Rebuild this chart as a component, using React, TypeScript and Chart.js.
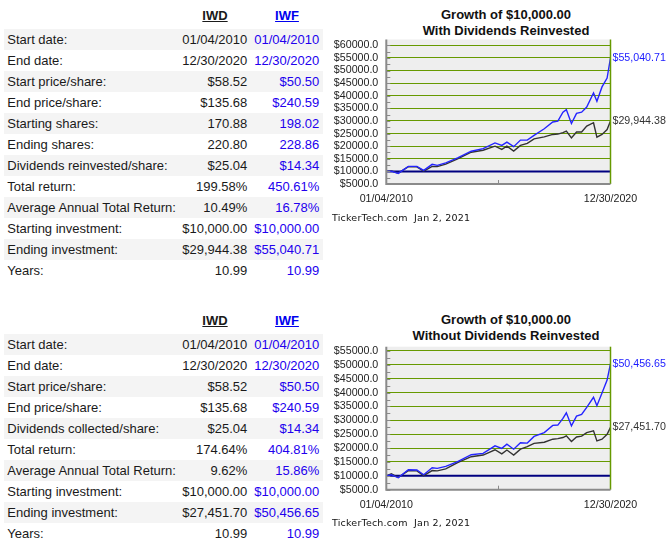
import React, { useEffect, useRef } from "react";
import { Chart, registerables } from "chart.js";

Chart.register(...registerables);

// ---------- DATA ----------
const tickers = ["IWD", "IWF"];

const rowLabelsWith = [
  "Start date:",
  "End date:",
  "Start price/share:",
  "End price/share:",
  "Starting shares:",
  "Ending shares:",
  "Dividends reinvested/share:",
  "Total return:",
  "Average Annual Total Return:",
  "Starting investment:",
  "Ending investment:",
  "Years:",
];
const iwdWithValues = ["01/04/2010", "12/30/2020", "$58.52", "$135.68", "170.88", "220.80", "$25.04", "199.58%", "10.49%", "$10,000.00", "$29,944.38", "10.99"];
const iwfWithValues = ["01/04/2010", "12/30/2020", "$50.50", "$240.59", "198.02", "228.86", "$14.34", "450.61%", "16.78%", "$10,000.00", "$55,040.71", "10.99"];

const rowLabelsWithout = [
  "Start date:",
  "End date:",
  "Start price/share:",
  "End price/share:",
  "Dividends collected/share:",
  "Total return:",
  "Average Annual Total Return:",
  "Starting investment:",
  "Ending investment:",
  "Years:",
];
const iwdWithoutValues = ["01/04/2010", "12/30/2020", "$58.52", "$135.68", "$25.04", "174.64%", "9.62%", "$10,000.00", "$27,451.70", "10.99"];
const iwfWithoutValues = ["01/04/2010", "12/30/2020", "$50.50", "$240.59", "$14.34", "404.81%", "15.86%", "$10,000.00", "$50,456.65", "10.99"];

// months elapsed since 01/04/2010 for each sampled point
const sampleMonths = [0, 3, 7, 13, 18, 22, 27, 30, 35, 42, 50, 57, 64, 68, 71, 75, 79, 83, 87, 93, 98, 101, 104, 106, 109, 112, 115, 118, 122, 124, 127, 130, 132];

const iwfWithDiv = [10000, 10100, 9200, 12000, 12000, 10400, 12800, 12400, 13400, 15400, 18000, 19000, 21300, 20300, 21600, 19800, 22400, 22400, 24300, 26900, 29600, 29900, 33500, 34500, 29000, 33000, 33500, 35500, 41100, 37800, 43500, 47000, 55040.71];
const iwdWithDiv = [10000, 10200, 9300, 11900, 11800, 10100, 12000, 11900, 12900, 15000, 17600, 18400, 20000, 18700, 20000, 18050, 20300, 21100, 22900, 23700, 24650, 24800, 25400, 26000, 23300, 25600, 25600, 27950, 29300, 23600, 24650, 26600, 29944.38];

const iwfNoDiv = [10000, 10400, 9300, 12200, 12100, 10400, 12900, 12700, 13400, 15100, 17600, 18100, 20800, 19900, 21400, 19600, 21900, 21800, 24200, 25600, 28200, 28300, 30700, 32700, 28000, 31500, 32100, 34700, 38300, 35300, 39900, 44500, 50456.65];
const iwdNoDiv = [10000, 10700, 9400, 11900, 11800, 10100, 11900, 11800, 12500, 14800, 16900, 17500, 19400, 17900, 19300, 17500, 19600, 20500, 21700, 22100, 23200, 23400, 23800, 24400, 22400, 24000, 24300, 25600, 26200, 22600, 23200, 25000, 27451.7];

const baselineValue = 10000;
const xTickLabels = ["01/04/2010", "12/30/2020"];
const yMinValue = 5000;
const yStep = 5000;
const yMinorStep = 2500;
const yTopTickWith = 60000;
const yTopTickWithout = 55000;
const creditText = "TickerTech.com  Jan 2, 2021";
const titleLine1 = "Growth of $10,000.00";

// ---------- STYLE ----------
const SANS = '"Liberation Sans", Arial, Helvetica, sans-serif';
const BLUE_LINE = "#2424ff";
const DARK_LINE = "#333333";
const GRID_GREEN = "#669900";
const AXIS_GRAY = "#8a8a8a";
const NAVY = "#000080";

type ChartProps = {
  top: number;
  height: number;
  subtitle: string;
  iwf: number[];
  iwd: number[];
  iwfEnd: string;
  iwdEnd: string;
  yMax: number;
  yTopTick: number;
  padTop: number;
  padBottom: number;
};

function GrowthChart(props: ChartProps) {
  const ref = useRef<HTMLCanvasElement>(null);
  useEffect(() => {
    const canvas = ref.current;
    if (!canvas) return;
    const first = sampleMonths[0];
    const last = sampleMonths[sampleMonths.length - 1];

    const bgPlugin = {
      id: "plotBg",
      beforeDraw(chart: any) {
        const { ctx, chartArea } = chart;
        ctx.save();
        ctx.fillStyle = "#eeeeee";
        ctx.fillRect(chartArea.left, chartArea.top, chartArea.right - chartArea.left, chartArea.bottom - chartArea.top);
        ctx.restore();
      },
    };

    const framePlugin = {
      id: "frame",
      afterDatasetsDraw(chart: any) {
        const { ctx, chartArea, scales } = chart;
        const { left, right, top, bottom } = chartArea;
        ctx.save();
        // right axis (green)
        ctx.strokeStyle = GRID_GREEN;
        ctx.lineWidth = 1.5;
        ctx.beginPath();
        ctx.moveTo(right, top);
        ctx.lineTo(right, bottom);
        ctx.stroke();
        // left & bottom axes (gray)
        ctx.strokeStyle = AXIS_GRAY;
        ctx.lineWidth = 2;
        ctx.beginPath();
        ctx.moveTo(left, top);
        ctx.lineTo(left, bottom);
        ctx.lineTo(right, bottom);
        ctx.stroke();
        // minor tick marks on left axis
        ctx.lineWidth = 1;
        const y = scales.y;
        for (let v = yMinValue; v <= props.yMax; v += yMinorStep) {
          const py = Math.round(y.getPixelForValue(v)) + 0.5;
          ctx.beginPath();
          ctx.moveTo(left, py);
          ctx.lineTo(left + 4, py);
          ctx.stroke();
        }
        // middle tick on bottom axis
        const mid = scales.x.getPixelForValue((first + last) / 2);
        ctx.beginPath();
        ctx.moveTo(Math.round(mid) + 0.5, bottom);
        ctx.lineTo(Math.round(mid) + 0.5, bottom - 4);
        ctx.stroke();

        // end value labels
        ctx.font = `10.67px ${SANS}`;
        ctx.textAlign = "left";
        ctx.textBaseline = "middle";
        const ends = [
          { idx: 0, text: props.iwfEnd, color: "#1a1aff" },
          { idx: 1, text: props.iwdEnd, color: "#333333" },
        ];
        ends.forEach((e) => {
          const meta = chart.getDatasetMeta(e.idx);
          const pt = meta.data[meta.data.length - 1];
          ctx.fillStyle = e.color;
          ctx.fillText(e.text, right + 2, pt.y);
        });
        ctx.restore();
      },
    };

    const toPoints = (vals: number[]) => sampleMonths.map((m, i) => ({ x: m, y: vals[i] }));

    const chart = new Chart(canvas, {
      type: "line",
      data: {
        datasets: [
          { label: tickers[1], data: toPoints(props.iwf), borderColor: BLUE_LINE, borderWidth: 1.4, pointRadius: 0, tension: 0 },
          { label: tickers[0], data: toPoints(props.iwd), borderColor: DARK_LINE, borderWidth: 1.4, pointRadius: 0, tension: 0 },
          {
            label: "base",
            data: [
              { x: first, y: baselineValue },
              { x: last, y: baselineValue },
            ],
            borderColor: NAVY,
            borderWidth: 2,
            pointRadius: 0,
          },
        ],
      },
      options: {
        animation: false,
        responsive: false,
        events: [],
        layout: { padding: { top: props.padTop, right: 59.5, bottom: props.padBottom, left: 0 } },
        plugins: { legend: { display: false }, tooltip: { enabled: false }, title: { display: false } },
        scales: {
          x: {
            type: "linear",
            min: first,
            max: last,
            afterBuildTicks(s: any) {
              s.ticks = [{ value: first }, { value: last }];
            },
            afterFit(s: any) {
              s.height = 30;
            },
            grid: { display: false, drawTicks: false },
            border: { display: false },
            ticks: {
              autoSkip: false,
              maxRotation: 0,
              padding: 9,
              color: "#222222",
              font: { family: SANS, size: 10.67 },
              callback: (v: any) => (v === first ? xTickLabels[0] : xTickLabels[1]),
            },
          },
          y: {
            type: "linear",
            min: yMinValue,
            max: props.yMax,
            afterBuildTicks(s: any) {
              const t: any[] = [];
              for (let v = yMinValue; v <= props.yTopTick; v += yStep) t.push({ value: v });
              s.ticks = t;
            },
            afterFit(s: any) {
              s.width = 56.3;
            },
            grid: {
              drawTicks: false,
              lineWidth: 1,
              color: (ctx: any) => {
                const v = ctx.tick ? ctx.tick.value : 0;
                return v >= 15000 ? GRID_GREEN : "rgba(0,0,0,0)";
              },
            },
            border: { display: false },
            ticks: {
              autoSkip: false,
              padding: 8,
              color: "#222222",
              font: { family: SANS, size: 10.67 },
              callback: (v: any) => "$" + Number(v).toFixed(1),
            },
          },
        },
      },
      plugins: [bgPlugin, framePlugin],
    } as any);
    return () => chart.destroy();
  }, [props]);

  return (
    <>
      <div
        style={{
          position: "absolute",
          left: 330,
          top: props.top + 7,
          width: 352,
          textAlign: "center",
          fontFamily: SANS,
          fontWeight: "bold",
          fontSize: 13,
          lineHeight: "15.8px",
          color: "#111",
        }}
      >
        <div>{titleLine1}</div>
        <div>{props.subtitle}</div>
      </div>
      <canvas
        ref={ref}
        width={340}
        height={props.height}
        style={{ position: "absolute", left: 330, top: props.top, width: 340, height: props.height }}
      />
      <div
        style={{
          position: "absolute",
          left: 332,
          top: props.top + 212,
          fontFamily: '"DejaVu Sans", Verdana, sans-serif',
          fontSize: 9.5,
          lineHeight: "12px",
          letterSpacing: 0.2,
          whiteSpace: "pre",
          color: "#111",
        }}
      >
        {creditText}
      </div>
    </>
  );
}

type TableProps = { top: number; labels: string[]; iwd: string[]; iwf: string[] };

function StatsTable({ top, labels, iwd, iwf }: TableProps) {
  return (
    <div style={{ position: "absolute", left: 0, top, width: 330, fontFamily: SANS, fontSize: 13 }}>
      <div
        style={{
          position: "absolute",
          left: 175,
          top: 8,
          width: 80,
          lineHeight: "16px",
          textAlign: "center",
          fontWeight: "bold",
          textDecoration: "underline",
          color: "#1a1a1a",
        }}
      >
        {tickers[0]}
      </div>
      <div
        style={{
          position: "absolute",
          left: 247,
          top: 8,
          width: 80,
          lineHeight: "16px",
          textAlign: "center",
          fontWeight: "bold",
          textDecoration: "underline",
          color: "#0000ee",
        }}
      >
        {tickers[1]}
      </div>
      {labels.map((lab, i) => (
        <div
          key={i}
          style={{
            position: "absolute",
            left: 4,
            top: 29 + i * 21,
            width: 318.7,
            height: 21,
            lineHeight: "21px",
            background: i % 2 === 0 ? "#f4f4f4" : "#ffffff",
            whiteSpace: "nowrap",
          }}
        >
          <span style={{ position: "absolute", left: 3.3, color: "#1a1a1a" }}>{lab}</span>
          <span style={{ position: "absolute", right: 75.4, color: "#1a1a1a" }}>{iwd[i]}</span>
          <span style={{ position: "absolute", right: 3.4, color: "#2200ee" }}>{iwf[i]}</span>
        </div>
      ))}
    </div>
  );
}

const chartWith = {
  top: 0,
  height: 230,
  subtitle: "With Dividends Reinvested",
  iwf: iwfWithDiv,
  iwd: iwdWithDiv,
  iwfEnd: iwfWithValues[10],
  iwdEnd: iwdWithValues[10],
  yMax: 62300,
  yTopTick: yTopTickWith,
  padTop: 39.5,
  padBottom: 16,
};

const chartWithout = {
  top: 305,
  height: 238,
  subtitle: "Without Dividends Reinvested",
  iwf: iwfNoDiv,
  iwd: iwdNoDiv,
  iwfEnd: iwfWithoutValues[8],
  iwdEnd: iwdWithoutValues[8],
  yMax: 56550,
  yTopTick: yTopTickWithout,
  padTop: 41.7,
  padBottom: 23.3,
};

export default function App() {
  return (
    <div style={{ position: "absolute", left: 0, top: 0, width: 670, height: 543, background: "#fff", overflow: "hidden" }}>
      <StatsTable top={0} labels={rowLabelsWith} iwd={iwdWithValues} iwf={iwfWithValues} />
      <StatsTable top={305} labels={rowLabelsWithout} iwd={iwdWithoutValues} iwf={iwfWithoutValues} />
      <GrowthChart {...chartWith} />
      <GrowthChart {...chartWithout} />
    </div>
  );
}
